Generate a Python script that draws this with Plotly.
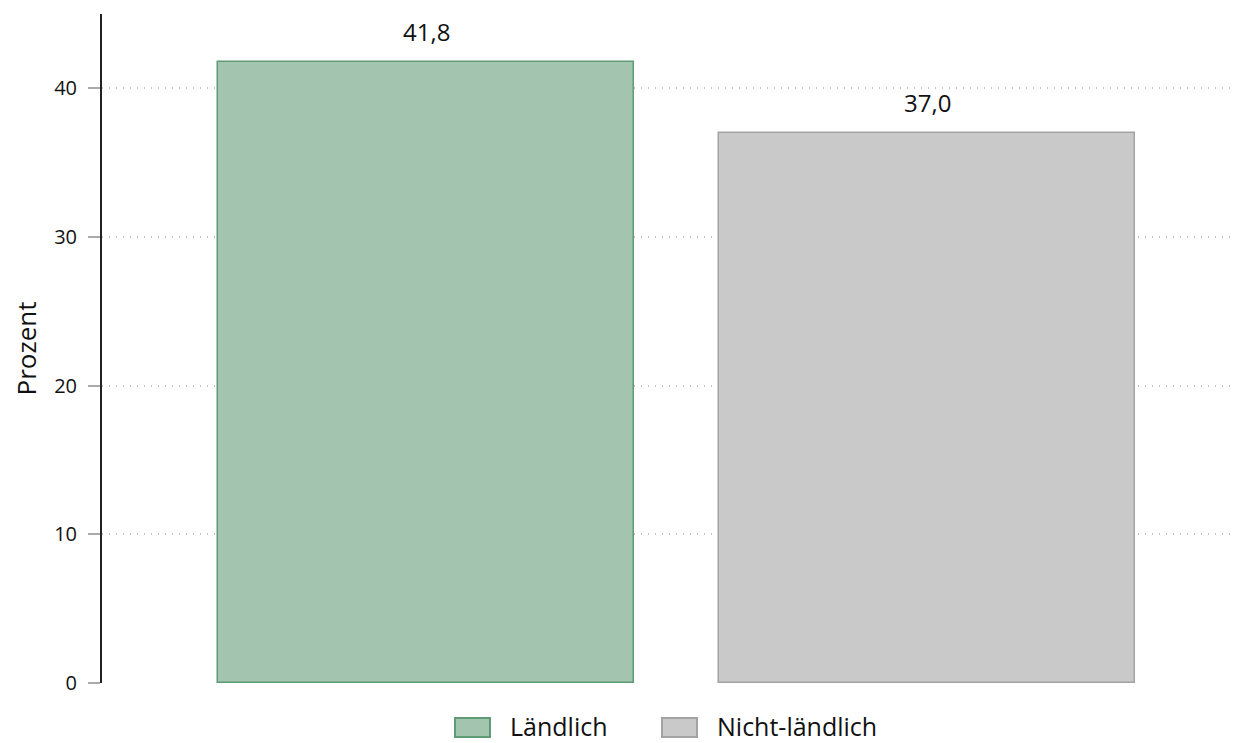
import plotly.graph_objects as go

categories = ["Ländlich", "Nicht-ländlich"]
values = [41.8, 37.0]
fill_colors = ["#a3c5b0", "#c9c9c9"]
line_colors = ["#5e9c74", "#a3a3a3"]
y_ticks = [0, 10, 20, 30, 40]

FONT = "Open Sans"
# the page body has an 8px margin; the figure is sized/offset to compensate
W, H = 1224, 735
L, T = 94, 6
PLOT_W = W - L
PLOT_H = 669
B = H - T - PLOT_H


def px(sx):  # screen x -> paper x
    return (sx - 102) / PLOT_W


def py(sy):  # screen y -> paper y
    return (683 - sy) / PLOT_H


fig = go.Figure()
for i, (cat, val) in enumerate(zip(categories, values)):
    fig.add_trace(go.Bar(
        x=[i], y=[val], name=cat,
        width=0.83,
        marker=dict(color=fill_colors[i], line=dict(color=line_colors[i], width=1.5)),
        showlegend=False,
    ))
    fig.add_annotation(x=i, y=val, text=f"{val:.1f}".replace(".", ","),
                       showarrow=False, yanchor="bottom", yshift=12,
                       font=dict(size=24, color="#111111", family=FONT))

# custom legend (larger rectangular swatches like the reference)
legend_x = [455, 662]
for i, cat in enumerate(categories):
    x0 = legend_x[i]
    fig.add_shape(type="rect", xref="paper", yref="paper",
                  x0=px(x0), x1=px(x0 + 35),
                  y0=py(737), y1=py(718),
                  fillcolor=fill_colors[i], line=dict(color=line_colors[i], width=2))
    fig.add_annotation(xref="paper", yref="paper",
                       x=px(x0 + 53), y=py(726),
                       xanchor="left", yanchor="middle", showarrow=False,
                       text=cat, font=dict(size=25, color="#111111", family=FONT))

fig.update_layout(
    width=W, height=H,
    margin=dict(l=L, r=0, t=T, b=B, pad=0, autoexpand=False),
    plot_bgcolor="white", paper_bgcolor="white",
    font=dict(family=FONT, color="#111111"),
    showlegend=False,
    bargap=0,
)
fig.update_xaxes(range=[-(426 - 102) / 501, 1 + (1232 - 927) / 501],
                 showticklabels=False, showgrid=False,
                 zeroline=False, showline=False, ticks="", automargin=False)
fig.update_yaxes(range=[0, 45], tickvals=y_ticks, showgrid=True,
                 gridcolor="#c4c4c4", griddash="1px,6px", gridwidth=1.5,
                 zeroline=False, showline=True, linecolor="#222222", linewidth=2,
                 ticks="outside", ticklen=12, tickcolor="#aaaaaa", tickwidth=2,
                 ticklabelstandoff=7, automargin=False,
                 tickfont=dict(size=20), title=dict(text="Prozent", font=dict(size=26), standoff=45))

fig.write_html("out.html")
